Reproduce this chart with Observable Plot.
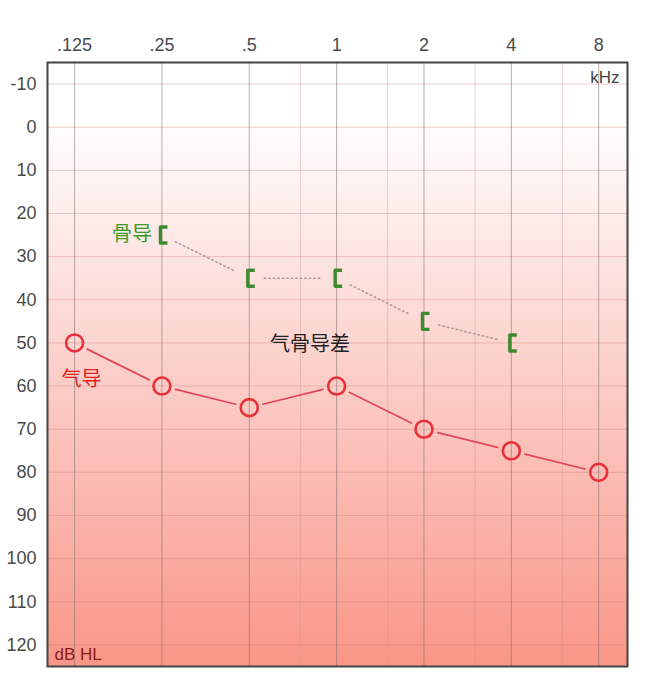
<!DOCTYPE html>
<html>
<head>
<meta charset="utf-8">
<script src="https://cdn.jsdelivr.net/npm/d3@7"></script>
<script src="https://cdn.jsdelivr.net/npm/@observablehq/plot@0.6"></script>
<style>
  html, body { margin: 0; padding: 0; background: #fff; }
</style>
</head>
<body>
<div id="chart"></div>
<script>
// Frequencies (kHz) and their printed labels
const freqs = [0.125, 0.25, 0.5, 1, 2, 4, 8];
const freqLabels = [".125", ".25", ".5", "1", "2", "4", "8"];
const halfOctaves = [0.75, 1.5, 3, 6];
const dbTicks = [-10, 0, 10, 20, 30, 40, 50, 60, 70, 80, 90, 100, 110, 120];

// Air conduction (气导)
const airFreq = [0.125, 0.25, 0.5, 1, 2, 4, 8];
const airDb = [50, 60, 65, 60, 70, 75, 80];

// Bone conduction (骨导)
const boneFreq = [0.25, 0.5, 1, 2, 4];
const boneDb = [25, 35, 35, 45, 50];

// Annotations
const noteText = ["骨导", "气导", "气骨导差"];
const noteFreq = [0.25, 0.125, 0.81];
const noteDb = [25, 58.5, 50.5];

const labelMap = new Map(freqs.map((f, i) => [f, freqLabels[i]]));
const air = airFreq.map((f, i) => ({f, db: airDb[i]}));
const bone = boneFreq.map((f, i) => ({f, db: boneDb[i]}));
const airSeg = air.slice(1).map((d, i) => ({f1: air[i].f, d1: air[i].db, f2: d.f, d2: d.db}));
const boneSeg = bone.slice(1).map((d, i) => ({f1: bone[i].f, d1: bone[i].db, f2: d.f, d2: d.db}));

const bracket = {
  draw(ctx) {
    ctx.moveTo(5.5, -8);
    ctx.lineTo(-1.5, -8);
    ctx.lineTo(-1.5, 8);
    ctx.lineTo(5.5, 8);
  }
};

const defs = () => {
  const g = d3.create("svg:g");
  const lg = g.append("defs").append("linearGradient")
    .attr("id", "bgGrad").attr("x1", 0).attr("y1", 0).attr("x2", 0).attr("y2", 1);
  [[0, "#ffffff"], [0.09, "#ffffff"], [0.3, "#fde7e4"], [0.5, "#fcd0cb"], [0.75, "#fbb4aa"], [1, "#f99586"]]
    .forEach(([o, c]) => lg.append("stop").attr("offset", o).attr("stop-color", c));
  return g.node();
};

const chart = Plot.plot({
  width: 651,
  height: 686,
  marginLeft: 47,
  marginRight: 24,
  marginTop: 62,
  marginBottom: 20,
  style: {fontFamily: "Liberation Sans, Arial, sans-serif", fontSize: "18px", color: "#444", background: "#fff"},
  x: {type: "log", base: 2, domain: [0.125 * Math.pow(2, -0.31), 8 * Math.pow(2, 0.33)], axis: null},
  y: {domain: [-15, 125], reverse: true, axis: null},
  marks: [
    defs,
    Plot.frame({fill: "url(#bgGrad)", stroke: "none"}),
    Plot.ruleY(dbTicks, {stroke: "#c98080", strokeOpacity: 0.38}),
    Plot.ruleX(halfOctaves, {stroke: "#c99090", strokeOpacity: 0.4}),
    Plot.ruleX(freqs, {stroke: "#7a6f6f", strokeOpacity: 0.55}),
    Plot.axisX(freqs, {anchor: "top", tickSize: 0, tickPadding: 12, tickFormat: d => labelMap.get(d), fontSize: 18, fill: "#4a4a4a"}),
    Plot.axisY(dbTicks, {anchor: "left", tickSize: 0, tickPadding: 11, tickFormat: d => String(d), fontSize: 18, fill: "#4a4a4a"}),
    Plot.arrow(boneSeg, {x1: "f1", y1: "d1", x2: "f2", y2: "d2", headLength: 0, inset: 15, stroke: "#ad9f9a", strokeWidth: 1.6, strokeDasharray: "1.5,3"}),
    Plot.arrow(airSeg, {x1: "f1", y1: "d1", x2: "f2", y2: "d2", headLength: 0, inset: 14, stroke: "#e0485a", strokeWidth: 1.7}),
    Plot.dot(air, {x: "f", y: "db", r: 8.5, stroke: "#e8303a", strokeWidth: 2.6, fill: "none"}),
    Plot.dot(bone, {x: "f", y: "db", symbol: bracket, stroke: "#3d8a2f", strokeWidth: 3.4, fill: "none", strokeLinejoin: "round"}),
    Plot.text([0], {x: noteFreq[0], y: noteDb[0], text: () => noteText[0], textAnchor: "end", dx: -10, fill: "#3a9a2a", fontSize: 20, fontFamily: "Noto Sans CJK SC"}),
    Plot.text([0], {x: noteFreq[1], y: noteDb[1], text: () => noteText[1], textAnchor: "middle", dx: 7, fill: "#e42020", fontSize: 20, fontFamily: "Noto Sans CJK SC"}),
    Plot.text([0], {x: noteFreq[2], y: noteDb[2], text: () => noteText[2], textAnchor: "middle", fill: "#222", fontSize: 20, fontFamily: "Noto Sans CJK SC"}),
    Plot.text(["kHz"], {frameAnchor: "top-right", dx: -8, dy: 8, text: d => d, textAnchor: "end", lineAnchor: "top", fill: "#444", fontSize: 17}),
    Plot.text(["dB HL"], {frameAnchor: "bottom-left", dx: 7, dy: -7, text: d => d, textAnchor: "start", lineAnchor: "bottom", fill: "#8b1c1c", fontSize: 17}),
    Plot.frame({stroke: "#444", strokeWidth: 2})
  ]
});
document.getElementById("chart").appendChild(chart);
</script>
</body>
</html>
